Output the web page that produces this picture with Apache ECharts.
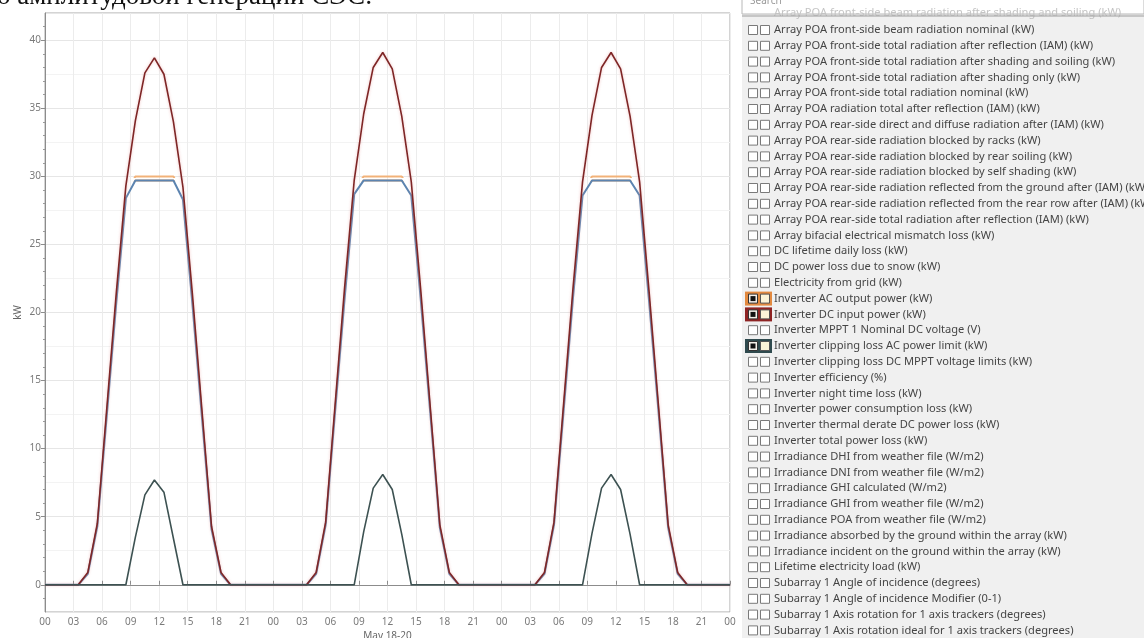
<!DOCTYPE html>
<html>
<head>
<meta charset="utf-8">
<script src="https://cdn.jsdelivr.net/npm/echarts@6/dist/echarts.min.js"></script>
<style>
html,body{margin:0;padding:0;background:#fff;}
#chart{width:1144px;height:638px;}
</style>
</head>
<body>
<div id="chart"></div>
<script>
// ---- data (hourly values, timestamps at the middle of each hour; edges at 00 and 72h) ----
const xTickLabels = ['00','03','06','09','12','15','18','21'];
const axisNameX = 'May 18-20';
const axisNameY = 'kW';

// Inverter DC input power (kW)
const dcInput = [0,
  0,0,0,0,0.9,4.5,13.0,21.5,29.3,34.1,37.6,38.7,37.5,34.0,29.2,21.3,12.8,4.3,0.9,0,0,0,0,0,
  0,0,0,0,0.9,4.6,13.3,21.9,29.7,34.6,38.0,39.1,37.9,34.4,29.6,21.6,13.0,4.4,0.9,0,0,0,0,0,
  0,0,0,0,0.9,4.6,13.2,21.8,29.6,34.5,38.0,39.1,37.9,34.4,29.6,21.5,13.0,4.4,0.9,0,0,0,0,0,
0];
// Inverter AC output power (kW)
const acOutput = [0,
  0,0,0,0,0.8,4.3,12.5,20.8,28.4,29.7,29.7,29.7,29.7,29.7,28.3,20.6,12.3,4.1,0.8,0,0,0,0,0,
  0,0,0,0,0.8,4.4,12.8,21.1,28.7,29.7,29.7,29.7,29.7,29.7,28.6,20.9,12.6,4.2,0.8,0,0,0,0,0,
  0,0,0,0,0.8,4.4,12.7,21.1,28.6,29.7,29.7,29.7,29.7,29.7,28.6,20.8,12.6,4.2,0.8,0,0,0,0,0,
0];
// Inverter clipping loss AC power limit (kW)
const clipLoss = [0,
  0,0,0,0,0,0,0,0,0,3.5,6.6,7.7,6.8,3.4,0,0,0,0,0,0,0,0,0,0,
  0,0,0,0,0,0,0,0,0,3.9,7.1,8.1,7.0,3.7,0,0,0,0,0,0,0,0,0,0,
  0,0,0,0,0,0,0,0,0,3.8,7.1,8.1,7.0,3.7,0,0,0,0,0,0,0,0,0,0,
0];

const legendItems = [
  'Array POA front-side beam radiation nominal (kW)',
  'Array POA front-side total radiation after reflection (IAM) (kW)',
  'Array POA front-side total radiation after shading and soiling (kW)',
  'Array POA front-side total radiation after shading only (kW)',
  'Array POA front-side total radiation nominal (kW)',
  'Array POA radiation total after reflection (IAM) (kW)',
  'Array POA rear-side direct and diffuse radiation after (IAM) (kW)',
  'Array POA rear-side radiation blocked by racks (kW)',
  'Array POA rear-side radiation blocked by rear soiling (kW)',
  'Array POA rear-side radiation blocked by self shading (kW)',
  'Array POA rear-side radiation reflected from the ground after (IAM) (kW)',
  'Array POA rear-side radiation reflected from the rear row after (IAM) (kW)',
  'Array POA rear-side total radiation after reflection (IAM) (kW)',
  'Array bifacial electrical mismatch loss (kW)',
  'DC lifetime daily loss (kW)',
  'DC power loss due to snow (kW)',
  'Electricity from grid (kW)',
  'Inverter AC output power (kW)',
  'Inverter DC input power (kW)',
  'Inverter MPPT 1 Nominal DC voltage (V)',
  'Inverter clipping loss AC power limit (kW)',
  'Inverter clipping loss DC MPPT voltage limits (kW)',
  'Inverter efficiency (%)',
  'Inverter night time loss (kW)',
  'Inverter power consumption loss (kW)',
  'Inverter thermal derate DC power loss (kW)',
  'Inverter total power loss (kW)',
  'Irradiance DHI from weather file (W/m2)',
  'Irradiance DNI from weather file (W/m2)',
  'Irradiance GHI calculated (W/m2)',
  'Irradiance GHI from weather file (W/m2)',
  'Irradiance POA from weather file (W/m2)',
  'Irradiance absorbed by the ground within the array (kW)',
  'Irradiance incident on the ground within the array (kW)',
  'Lifetime electricity load (kW)',
  'Subarray 1 Angle of incidence (degrees)',
  'Subarray 1 Angle of incidence Modifier (0-1)',
  'Subarray 1 Axis rotation for 1 axis trackers (degrees)',
  'Subarray 1 Axis rotation ideal for 1 axis trackers (degrees)'
];
const checkedItems = {
  'Inverter AC output power (kW)': '#e2893f',
  'Inverter DC input power (kW)': '#8e2424',
  'Inverter clipping loss AC power limit (kW)': '#2f4a4e'
};
const headingText = 'о амплитудовой генерации СЭС:';

// ---- build ----
const hours = [0];
for (let i = 0; i < 72; i++) hours.push(i + 0.5);
hours.push(72);
const pairs = arr => hours.map((h, i) => [h, arr[i]]);

const chart = echarts.init(document.getElementById('chart'));

const legendFont = '11.1px "Noto Sans"';
const graphics = [];
// panel
graphics.push({type:'rect', shape:{x:742, y:14, width:402, height:624}, style:{fill:'#f0f0f0'}, z:1});
graphics.push({type:'rect', shape:{x:742, y:-20, width:402, height:34}, style:{fill:'#ffffff', stroke:'#b8b8b8', lineWidth:1}, z:1});
graphics.push({type:'text', style:{x:750, y:1, text:'Search', font:'10px "Noto Sans"', fill:'#9a9a9a', verticalAlign:'middle'}, z:2});
graphics.push({type:'text', style:{x:774, y:13, text:'Array POA front-side beam radiation after shading and soiling (kW)', font:legendFont, fill:'#c4c4c4', verticalAlign:'middle'}, z:2});
graphics.push({type:'line', shape:{x1:742, y1:16, x2:1144, y2:16}, style:{stroke:'#9c9c9c', lineWidth:1}, z:3});

legendItems.forEach((name, i) => {
  const cy = 30 + i * 15.8;
  const col = checkedItems[name];
  if (col) {
    graphics.push({type:'rect', shape:{x:745, y:cy-7, width:27, height:14}, style:{fill:col}, z:2});
  }
  graphics.push({type:'rect', shape:{x:748.5, y:cy-4.5, width:9, height:9}, style:{fill: col ? '#f4f0ea' : '#ffffff', stroke: col ? '#333' : '#7a7a7a', lineWidth:1}, z:3});
  graphics.push({type:'rect', shape:{x:760.5, y:cy-4.5, width:9, height:9}, style:{fill: col ? '#fbf4d8' : '#ffffff', stroke: col ? '#555' : '#7a7a7a', lineWidth:1}, z:3});
  if (col) {
    graphics.push({type:'rect', shape:{x:750.5, y:cy-2.5, width:5, height:5}, style:{fill:'#111'}, z:4});
  }
  graphics.push({type:'text', style:{x:774, y:cy, text:name, font:legendFont, fill:'#454545', verticalAlign:'middle'}, z:3});
});
graphics.push({type:'text', style:{x:-3, y:10, text:headingText, font:'27px "Liberation Serif"', fill:'#111', verticalAlign:'bottom'}, z:5});

const option = {
  backgroundColor: '#ffffff',
  animation: false,
  grid: {left:45, right:414, top:13, bottom:26, show:true, borderColor:'#a8a8a8', borderWidth:1, backgroundColor:'#ffffff',
         containLabel:false, outerBoundsMode:'none'},
  visualMap: [{
    type:'piecewise', show:false, seriesIndex:0, dimension:1,
    pieces:[{min:-10, max:29.6, color:'rgba(255,255,255,0)'}, {min:29.6, max:100, color:'#f2b47a'}]
  }],
  xAxis: {
    type:'value', min:0, max:72, interval:3,
    name: axisNameX, nameLocation:'middle', nameGap:19, nameMoveOverlap:false,
    nameTextStyle:{color:'#666', fontSize:10, fontFamily:'Noto Sans'},
    axisLine:{lineStyle:{color:'#8c8c8c'}},
    axisTick:{inside:true, length:4, lineStyle:{color:'#8c8c8c'}},
    axisLabel:{color:'#7a7a7a', fontSize:10, fontFamily:'Noto Sans', margin:5,
      formatter: v => xTickLabels[Math.round(v / 3) % 8]},
    splitLine:{show:true, lineStyle:{color:'#ececec'}}
  },
  yAxis: [{
    type:'value', min:-2, max:42, splitNumber:9,
    name: axisNameY, nameLocation:'middle', nameGap:22, nameRotate:90, nameMoveOverlap:false,
    nameTextStyle:{color:'#666', fontSize:10, fontFamily:'Noto Sans'},
    axisLine:{show:true, lineStyle:{color:'#8c8c8c'}},
    axisTick:{show:true, length:4, lineStyle:{color:'#8c8c8c'}},
    axisLabel:{color:'#7a7a7a', fontSize:10, fontFamily:'Noto Sans', margin:4, showMinLabel:false, showMaxLabel:false,
      formatter: v => (v % 5 === 0 ? String(v) : '')},
    splitLine:{show:true, lineStyle:{color:'#e6e6e6'}},
    minorTick:{show:false, splitNumber:2},
    minorSplitLine:{show:true, lineStyle:{color:'#f3f3f3'}}
  }, {
    type:'value', min:-2, max:42, splitNumber:9, position:'left',
    axisLine:{show:false}, axisTick:{show:false}, axisLabel:{show:false}, splitLine:{show:false},
    minorTick:{show:true, splitNumber:5, length:2, lineStyle:{color:'#9a9a9a'}}
  }],
  series: [
    // highlight band of the AC output at the power limit (same data, drawn under the main line)
    {name:'Inverter AC output power limit band', type:'line', yAxisIndex:0, data:pairs(acOutput), showSymbol:false, symbol:'none', z:1,
      lineStyle:{width:2, shadowColor:'rgba(242,175,115,0.95)', shadowBlur:0, shadowOffsetY:-4}},
    {name:'Inverter AC output power (kW)', type:'line', yAxisIndex:0, data:pairs(acOutput), showSymbol:false, symbol:'none', z:2,
      lineStyle:{color:'#5c84b0', width:2}},
    {name:'Inverter DC input power (kW)', type:'line', yAxisIndex:0, data:pairs(dcInput), showSymbol:false, symbol:'none', z:3,
      lineStyle:{color:'#7e2626', width:1.6, shadowColor:'rgba(230,150,150,0.6)', shadowBlur:3}},
    {name:'Inverter clipping loss AC power limit (kW)', type:'line', yAxisIndex:0, data:pairs(clipLoss), showSymbol:false, symbol:'none', z:4,
      lineStyle:{color:'#3d5252', width:1.6}}
  ],
  graphic: graphics
};
chart.setOption(option);
</script>
</body>
</html>
